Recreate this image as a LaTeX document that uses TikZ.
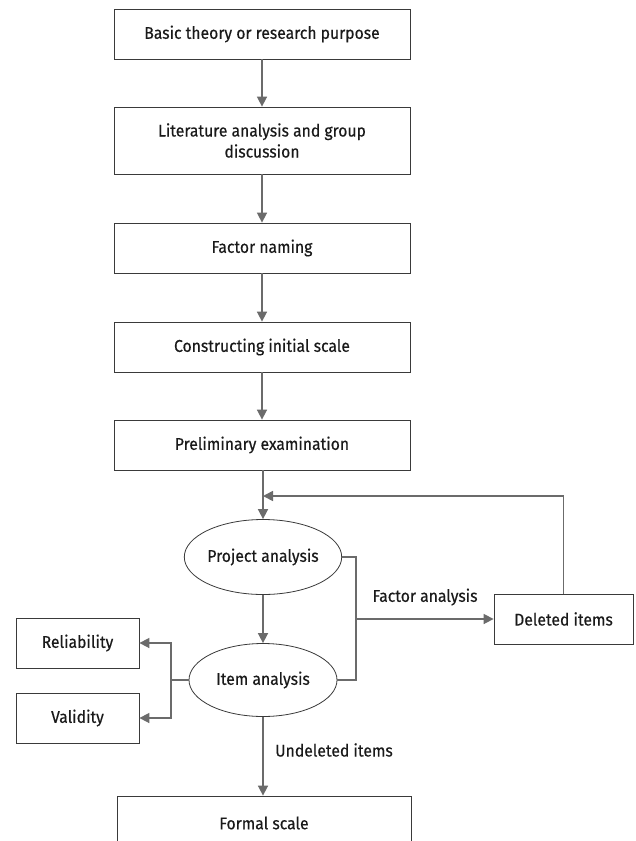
\documentclass[tikz,border=0pt]{standalone}
\usepackage{fontspec}
\setmainfont{Fira Sans}[FakeStretch=0.925,FakeBold=0.4]
\usetikzlibrary{arrows.meta,shapes.geometric}
\definecolor{linegray}{HTML}{6B6B6B}
\definecolor{edgegray}{HTML}{3A3A3A}
\definecolor{txt}{HTML}{1A1A1A}
\begin{document}
\begin{tikzpicture}[x=1pt,y=-1pt,
  lbl/.style={font=\fontsize{17}{21}\selectfont, text=txt, inner sep=0pt},
  box/.style={lbl, draw=edgegray, line width=0.8pt, fill=white, align=center, minimum width=296pt, minimum height=50pt},
  sbox/.style={box, minimum width=123pt},
  ell/.style={lbl, ellipse, draw=edgegray, line width=0.8pt, fill=white, minimum width=148pt, minimum height=75pt},
  wire/.style={draw=linegray, line width=1.6pt},
  conn/.style={wire, -{Triangle[length=10pt,width=10pt]}}]
\useasboundingbox (0,0) rectangle (635,841);
\fill[white] (0,0) rectangle (635,841);

\node[box] (b1) at (262,34) {Basic theory or research purpose};
\node[box, minimum height=67pt] (b2) at (262,140.5) {Literature analysis and group\\discussion};
\node[box] (b3) at (262,248) {Factor naming};
\node[box] (b4) at (262,347) {Constructing initial scale};
\node[box] (b5) at (262,445) {Preliminary examination};
\node[ell] (pa) at (263,557) {Project analysis};
\node[ell, minimum height=73pt] (ia) at (263,680) {Item analysis};
\node[box, minimum width=139pt] (del) at (563.5,619) {Deleted items};
\node[sbox] (rel) at (77.5,643) {Reliability};
\node[sbox] (val) at (77.5,718) {Validity};
\node[box, minimum width=294pt, minimum height=54pt] (fs) at (264,823) {Formal scale};

\coordinate (fb) at (263,496);
\coordinate (jx) at (356,619);
\coordinate (lx) at (171,680);

\draw[conn] (b1) -- (b2);
\draw[conn] (b2) -- (b3);
\draw[conn] (b3) -- (b4);
\draw[conn] (b4) -- (b5);
\draw[conn] (b5.south -| pa.north) -- (pa.north);
\draw[conn] (del.north) |- (fb);
\draw[conn] (pa) -- (ia);
\draw[wire] (pa.east) -| (jx) |- (ia.east);
\draw[conn] (jx) -- (del.west);
\draw[wire] (ia.west) -- (lx);
\draw[conn] (lx) |- (rel.east);
\draw[conn] (lx) |- (val.east);
\draw[conn] (ia.south) -- (ia.south |- fs.north);

\node[lbl] (fa) at (425,597) {Factor analysis};
\node[lbl] (ud) at (334,750) {Undeleted items};
\end{tikzpicture}
\end{document}
